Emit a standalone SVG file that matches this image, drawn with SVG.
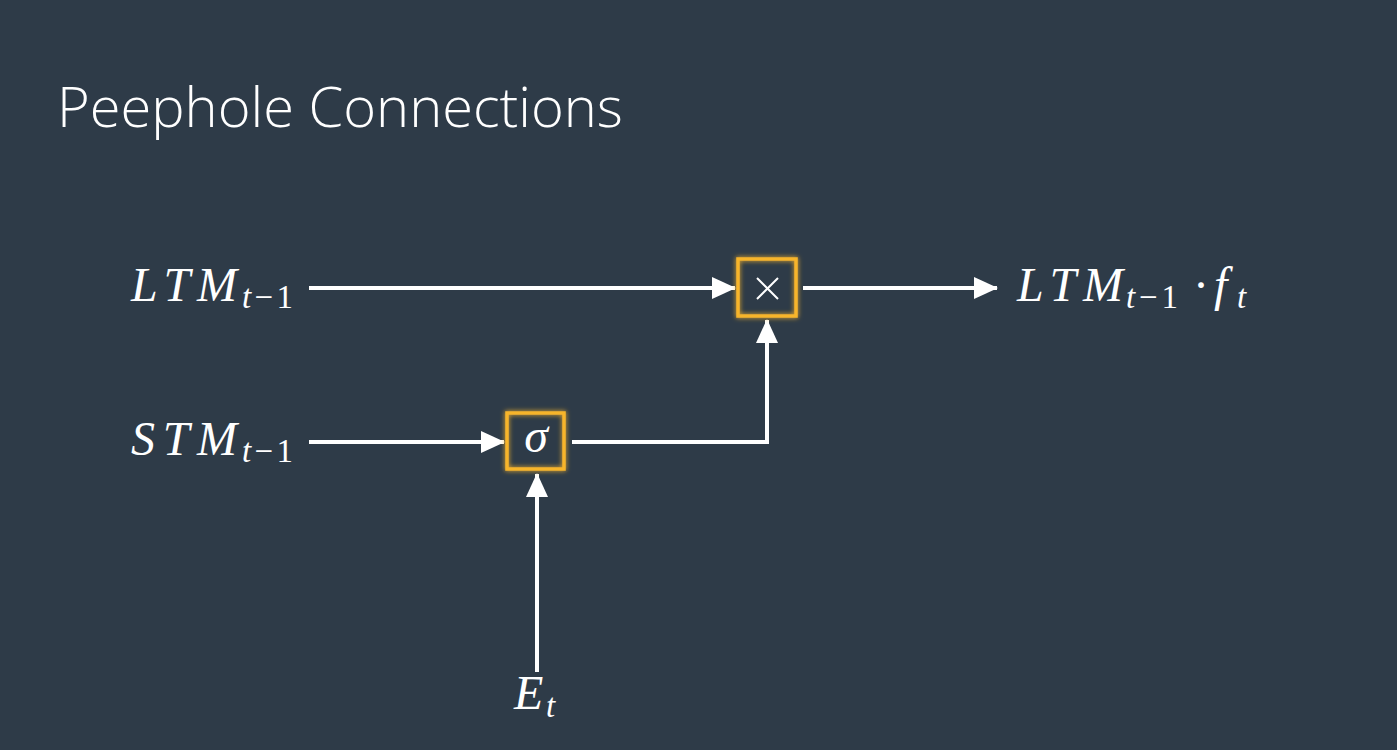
<svg xmlns="http://www.w3.org/2000/svg" width="1397" height="750" viewBox="0 0 1397 750">
<style>
.bg{fill:#2e3b48}
.title{font-family:"Open Sans","Noto Sans",sans-serif;font-weight:300;font-size:56px;fill:#ffffff}
.m{font-family:"Liberation Serif","DejaVu Serif",serif;font-style:italic;fill:#ffffff;font-size:48px}
.sub{font-size:33px}
.up{font-style:normal}
.edge{stroke:#ffffff;stroke-width:4;fill:none}
.box{fill:none;stroke:#f7b52c;stroke-width:3.5}
</style>
<defs>
<marker id="ah" viewBox="0 0 24 22" refX="23" refY="11" markerWidth="24" markerHeight="22" markerUnits="userSpaceOnUse" orient="auto">
<path d="M0,0 L24,11 L0,22 Z" fill="#ffffff"/>
</marker>
<filter id="glow" x="-30%" y="-30%" width="160%" height="160%">
<feGaussianBlur stdDeviation="2.5" result="b"/>
<feMerge><feMergeNode in="b"/><feMergeNode in="SourceGraphic"/></feMerge>
</filter>
</defs>
<rect class="bg" x="0" y="0" width="1397" height="750"/>
<text class="title" x="57" y="127">Peephole Connections</text>

<g id="connectors">
<line class="edge" x1="309" y1="288" x2="735" y2="288" marker-end="url(#ah)"/>
<line class="edge" x1="803" y1="288" x2="997" y2="288" marker-end="url(#ah)"/>
<line class="edge" x1="309" y1="442" x2="504" y2="442" marker-end="url(#ah)"/>
<polyline class="edge" points="572,442 767,442 767,320" marker-end="url(#ah)"/>
<line class="edge" x1="537" y1="672" x2="537" y2="474" marker-end="url(#ah)"/>
</g>

<g id="ltm">
<text class="m" x="131" y="301" textLength="106" lengthAdjust="spacing">LTM</text>
<text class="m sub" x="242" y="308" textLength="51" lengthAdjust="spacing">t<tspan class="up">−1</tspan></text>
</g>
<g id="stm">
<text class="m" x="131" y="455" textLength="106" lengthAdjust="spacing">STM</text>
<text class="m sub" x="242" y="462" textLength="51" lengthAdjust="spacing">t<tspan class="up">−1</tspan></text>
</g>
<g id="mult">
<rect class="box" filter="url(#glow)" x="738" y="259" width="58" height="57"/>
<path d="M757,278 L778,299 M778,278 L757,299" stroke="#ffffff" stroke-width="2" fill="none"/>
</g>
<g id="sigma">
<rect class="box" filter="url(#glow)" x="507" y="413" width="57" height="56"/>
<text class="m" x="536" y="452" text-anchor="middle" font-size="36">σ</text>
</g>
<g id="input">
<text class="m" x="514" y="709">E</text>
<text class="m sub" x="546" y="717">t</text>
</g>
<g id="output">
<text class="m" x="1017" y="301" textLength="106" lengthAdjust="spacing">LTM</text>
<text class="m sub" x="1126" y="308" textLength="52" lengthAdjust="spacing">t<tspan class="up">−1</tspan></text>
<text class="m up" x="1193" y="301">·</text>
<text class="m" x="1214" y="301">f</text>
<text class="m sub" x="1237" y="308">t</text>
</g>
</svg>
